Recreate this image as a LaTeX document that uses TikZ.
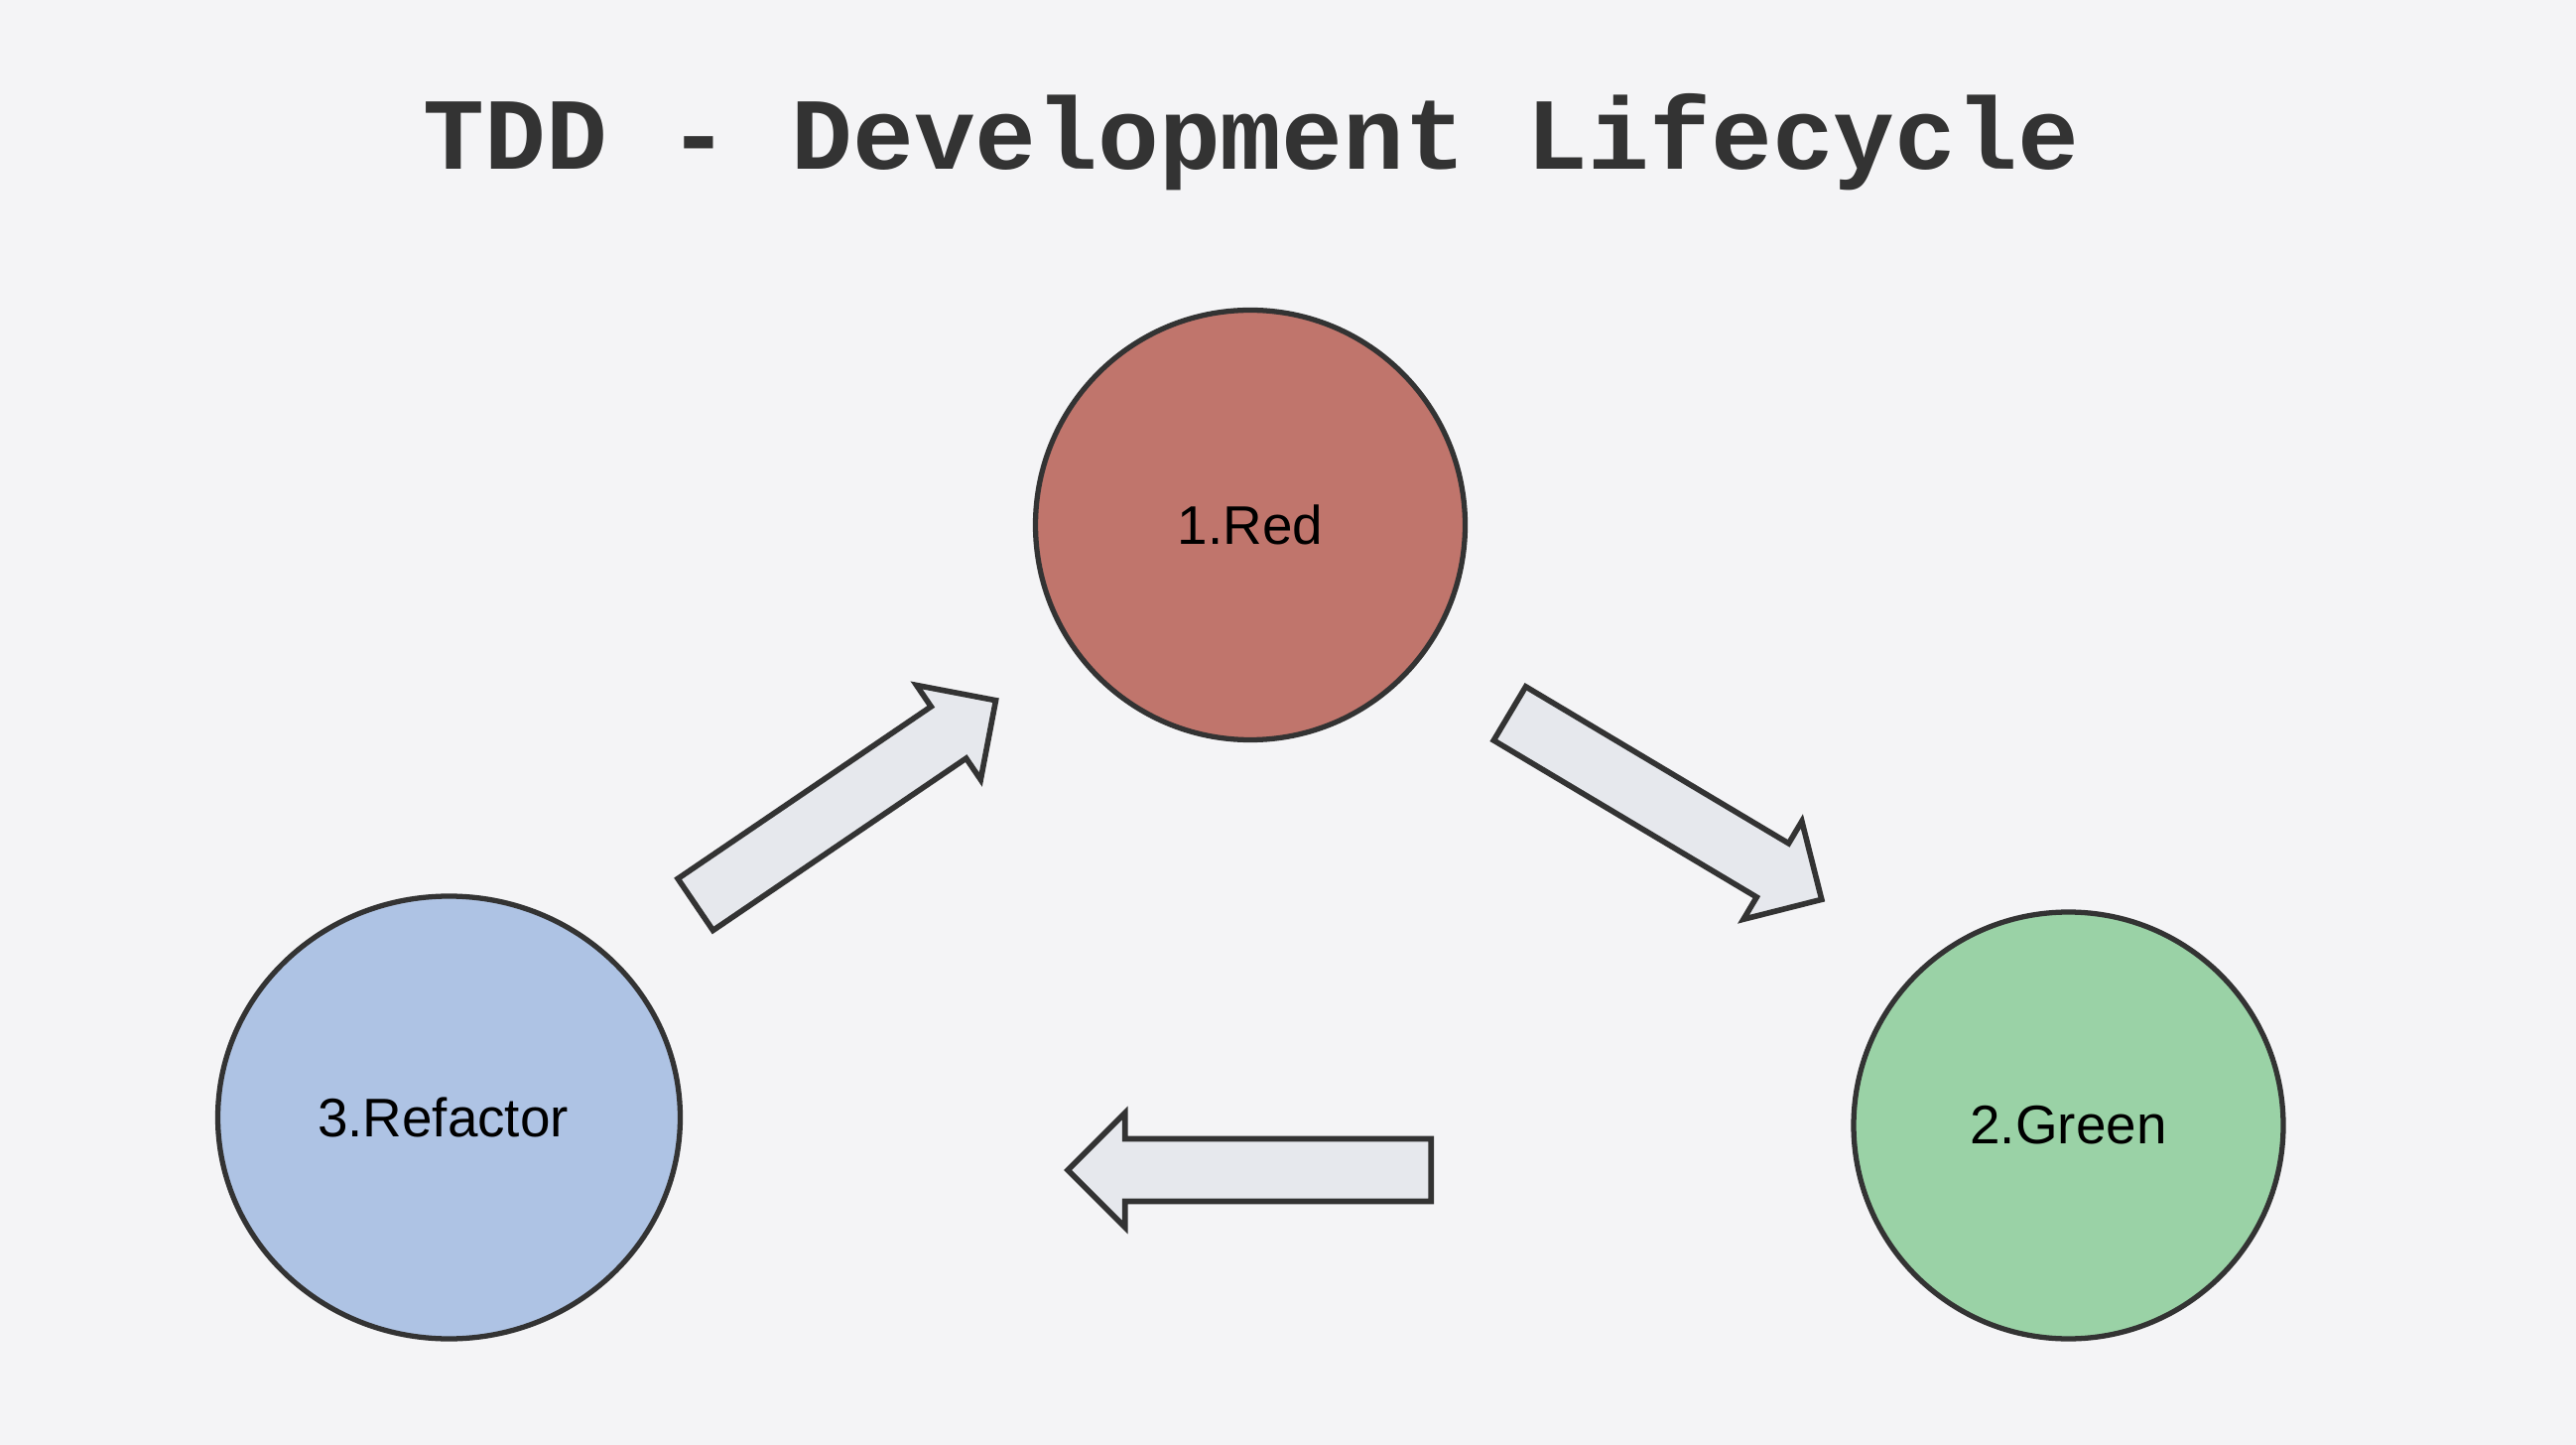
\documentclass[tikz,border=0pt]{standalone}
\usepackage{fontspec}
\setmainfont{Liberation Sans}
\newfontfamily\titlefont{Liberation Mono}
\usetikzlibrary{shapes.geometric,shapes.arrows}

\definecolor{bgcol}{RGB}{244,244,246}
\definecolor{inkcol}{RGB}{51,51,51}
\definecolor{redcol}{RGB}{192,117,108}
\definecolor{greencol}{RGB}{154,210,166}
\definecolor{bluecol}{RGB}{174,195,228}
\definecolor{arrowcol}{RGB}{230,232,237}

\tikzset{
    phase/.style={ellipse, draw=inkcol, line width=1.5pt, inner sep=0pt,
        font=\fontsize{15.6}{18}\selectfont, text=black},
    blockarrow/.style={single arrow, draw=inkcol, fill=arrowcol, line width=1.6pt,
        inner xsep=0pt, inner ysep=0.275cm, minimum height=3.66cm, minimum width=1.15cm,
        single arrow head indent=0pt, anchor=tail}
}

\begin{document}
\begin{tikzpicture}
    % Background and picture frame
    \fill[bgcol] (0,0) rectangle (25.96,-14.56);
    \useasboundingbox (0,0) rectangle (25.96,-14.56);

    % Title
    \node[anchor=base, text=inkcol, font=\titlefont\bfseries\fontsize{29.3}{34}\selectfont] (title) at (12.61,-1.71) {TDD - Development Lifecycle};

    % The three phases
    \node[phase, fill=redcol, minimum width=4.33cm, minimum height=4.33cm] (red) at (12.60,-5.29) {1.Red};
    \node[phase, fill=greencol, minimum width=4.33cm, minimum height=4.30cm] (green) at (20.845,-11.34) {2.Green};
    \node[phase, fill=bluecol, minimum width=4.66cm, minimum height=4.46cm] (refactor) at (4.525,-11.26) {\hspace*{-0.12cm}3.Refactor};

    % Block arrows between the phases
    \node[blockarrow, rotate=-30.8] (redtogreen) at (15.19,-7.175) {};
    \node[blockarrow, rotate=180] (greentorefactor) at (14.45,-11.79) {};
    \node[blockarrow, rotate=34.2] (refactortored) at (6.985,-9.13) {};
\end{tikzpicture}
\end{document}
